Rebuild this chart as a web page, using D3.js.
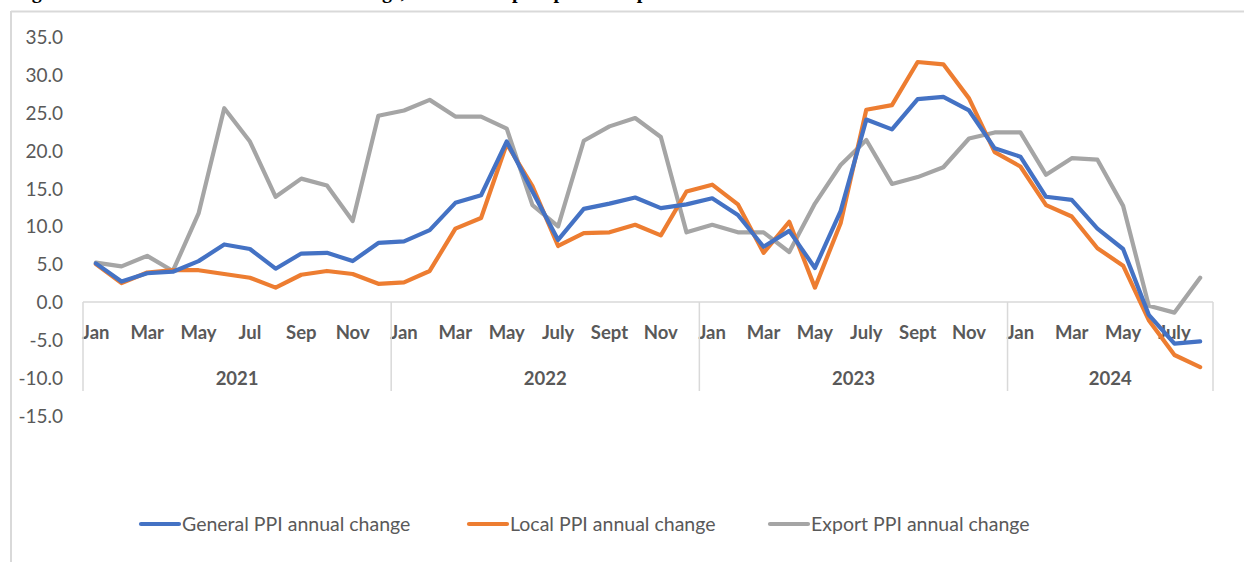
<!DOCTYPE html>
<html>
<head>
<meta charset="utf-8">
<script src="https://cdn.jsdelivr.net/npm/d3@7"></script>
<style>
  html, body { margin: 0; padding: 0; background: #ffffff; }
  svg { display: block; }
</style>
</head>
<body>
<svg id="chart" width="1244" height="562"></svg>
<script>
// ---------------- data ----------------
const years = ["2021", "2022", "2023", "2024"];
const monthsPerYear = [12, 12, 12, 8];
const monthLabels = [
  "Jan","","Mar","","May","","Jul","","Sep","","Nov","",
  "Jan","","Mar","","May","","July","","Sept","","Nov","",
  "Jan","","Mar","","May","","July","","Sept","","Nov","",
  "Jan","","Mar","","May","","July",""
];
const generalPPI = [
  5.1, 2.7, 3.8, 4.0, 5.4, 7.6, 7.0, 4.4, 6.4, 6.5, 5.4, 7.8,
  8.0, 9.5, 13.1, 14.1, 21.2, 14.6, 8.2, 12.3, 13.0, 13.8, 12.4, 12.9,
  13.7, 11.5, 7.3, 9.4, 4.5, 12.0, 24.1, 22.8, 26.8, 27.1, 25.3, 20.3,
  19.2, 13.9, 13.5, 9.7, 7.0, -1.7, -5.5, -5.2
];
const localPPI = [
  5.0, 2.5, 3.9, 4.2, 4.2, 3.7, 3.2, 1.9, 3.6, 4.1, 3.7, 2.4,
  2.6, 4.1, 9.7, 11.1, 20.9, 15.3, 7.4, 9.1, 9.2, 10.2, 8.8, 14.6,
  15.5, 12.9, 6.5, 10.6, 1.9, 10.4, 25.4, 26.0, 31.7, 31.4, 26.9, 19.8,
  17.9, 12.8, 11.3, 7.1, 4.8, -2.4, -7.0, -8.6
];
const exportPPI = [
  5.2, 4.7, 6.1, 4.1, 11.7, 25.6, 21.2, 13.9, 16.3, 15.4, 10.7, 24.6,
  25.3, 26.7, 24.5, 24.5, 22.9, 12.8, 10.0, 21.3, 23.2, 24.3, 21.8, 9.2,
  10.2, 9.2, 9.2, 6.6, 13.0, 18.1, 21.4, 15.6, 16.5, 17.8, 21.6, 22.4,
  22.4, 16.8, 19.0, 18.8, 12.7, -0.5, -1.4, 3.2
];
const seriesNames = ["General PPI annual change", "Local PPI annual change", "Export PPI annual change"];
const yTicks = [35, 30, 25, 20, 15, 10, 5, 0, -5, -10, -15];
const titleText = "Figure 2: General PPI annual rates of change, local and export producer prices";

// ---------------- setup ----------------
const svg = d3.select("#chart");
const colors = ["#4472C4", "#ED7D31", "#A5A5A5"];
const axisColor = "#595959";
const frameColor = "#D9D9D9";
const font = "Lato, 'Open Sans', 'Noto Sans', sans-serif";

const plotLeft = 83, plotRight = 1213;
const yTop = 37.05, yBottom = 415.55;

const idx = d3.range(generalPPI.length);
const x = d3.scaleBand().domain(idx).range([plotLeft, plotRight]).padding(0);
const xc = i => x(i) + x.bandwidth() / 2;
const y = d3.scaleLinear().domain([-15, 35]).range([yBottom, yTop]);

// frame (figure border)
svg.append("line").attr("x1", 11).attr("x2", 1244).attr("y1", 11.5).attr("y2", 11.5)
  .attr("stroke", frameColor).attr("stroke-width", 2);
svg.append("line").attr("x1", 11).attr("x2", 11).attr("y1", 11).attr("y2", 562)
  .attr("stroke", frameColor).attr("stroke-width", 2);

// title, cut off at the top edge as in the reference (only descenders visible)
svg.append("text").attr("x", 14).attr("y", -2.5)
  .attr("font-family", "'Liberation Serif', 'Times New Roman', serif")
  .attr("font-weight", "bold").attr("font-size", 20).attr("fill", "#000")
  .text(titleText);

// y axis
const yAxis = d3.axisLeft(y).tickValues(yTicks).tickSize(0).tickPadding(0)
  .tickFormat(d => d.toFixed(1));
const gy = svg.append("g").attr("transform", "translate(63,0)").call(yAxis);
gy.select(".domain").remove();
gy.selectAll("text").attr("font-family", font).attr("font-size", 19)
  .attr("fill", axisColor).attr("dy", "0.35em");

// x axis: month labels
const xAxis = d3.axisBottom(x).tickSize(0).tickPadding(24).tickFormat(i => monthLabels[i]);
const gx = svg.append("g").attr("transform", `translate(0,${y(0)})`).call(xAxis);
gx.select(".domain").remove();
gx.selectAll("text").attr("font-family", font).attr("font-size", 18.5)
  .attr("font-weight", "bold").attr("fill", axisColor);

// category axis line and year dividers
svg.append("line").attr("x1", plotLeft).attr("x2", plotRight)
  .attr("y1", y(0)).attr("y2", y(0)).attr("stroke", frameColor).attr("stroke-width", 1.5);
const starts = [0];
monthsPerYear.forEach((m, k) => starts.push(starts[k] + m));
const boundaryX = starts.map(s => s < idx.length ? x(s) : plotRight);
svg.selectAll(".divider").data(boundaryX).join("line").attr("class", "divider")
  .attr("x1", d => d).attr("x2", d => d).attr("y1", y(0)).attr("y2", 391)
  .attr("stroke", frameColor).attr("stroke-width", 1.5);
svg.selectAll(".year").data(years).join("text").attr("class", "year")
  .attr("x", (d, k) => (boundaryX[k] + boundaryX[k + 1]) / 2)
  .attr("y", 384.5).attr("text-anchor", "middle")
  .attr("font-family", font).attr("font-size", 18.5).attr("font-weight", "bold")
  .attr("fill", axisColor).text(d => d);

// lines
const line = d3.line().x((d, i) => xc(i)).y(d => y(d));
const allSeries = [generalPPI, localPPI, exportPPI];
const drawOrder = [2, 1, 0];
drawOrder.forEach(k => {
  svg.append("path").datum(allSeries[k]).attr("d", line)
    .attr("fill", "none").attr("stroke", colors[k]).attr("stroke-width", 4.2)
    .attr("stroke-linejoin", "round").attr("stroke-linecap", "round");
});

// legend
const legendX = [141, 469, 770];
const lg = svg.selectAll(".legend").data(seriesNames).join("g").attr("class", "legend")
  .attr("transform", (d, k) => `translate(${legendX[k]},524)`);
lg.append("line").attr("x1", 0).attr("x2", 38).attr("y1", 0).attr("y2", 0)
  .attr("stroke", (d, k) => colors[k]).attr("stroke-width", 4.2).attr("stroke-linecap", "round");
lg.append("text").attr("x", 41).attr("y", 0).attr("dy", "0.35em")
  .attr("font-family", font).attr("font-size", 19.5).attr("fill", axisColor)
  .text(d => d);
</script>
</body>
</html>
